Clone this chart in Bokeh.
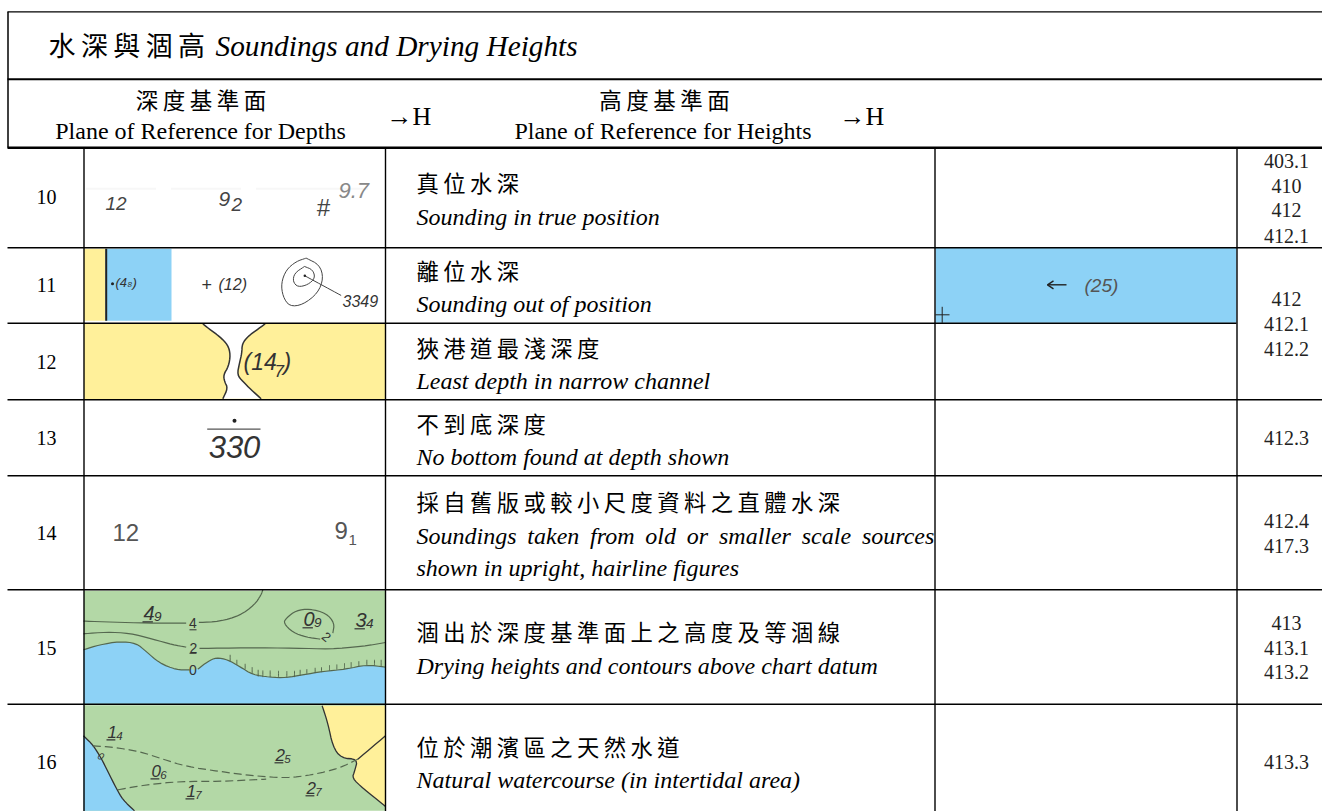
from bokeh.plotting import figure
from bokeh.models import Range1d
from bokeh.core.properties import value
from bokeh.embed import file_html
from bokeh.resources import INLINE

TS = "\u2009"
def sp(s):
    return TS.join(s)

title_cn = "水深與涸高"
title_en = "Soundings and Drying Heights"
hdr_cn = ["深度基準面", "高度基準面"]
hdr_en = ["Plane of Reference for Depths", "Plane of Reference for Heights"]
hdr_arrow = "→H"
row_numbers = ["10", "11", "12", "13", "14", "15", "16"]
row_cn = ["真位水深", "離位水深", "狹港道最淺深度", "不到底深度", "採自舊版或較小尺度資料之直體水深",
          "涸出於深度基準面上之高度及等涸線", "位於潮濱區之天然水道"]
row_en = [["Sounding in true position"], ["Sounding out of position"], ["Least depth in narrow channel"],
          ["No bottom found at depth shown"],
          ["Soundings\u2009 taken\u2009 from\u2009 old\u2009 or\u2009 smaller\u2009 scale\u2009 sources", "shown in upright, hairline figures"],
          ["Drying heights and contours above chart datum"], ["Natural watercourse (in intertidal area)"]]
refs = [["403.1", "410", "412", "412.1"], ["412", "412.1", "412.2"], ["412.3"], ["412.4", "417.3"],
        ["413", "413.1", "413.2"], ["413.3"]]
ref_ys = [[161, 186, 210, 236], [299, 324, 349], [438], [521, 546], [623, 648, 672], [762]]

row_y = [197, 285, 362, 438, 533, 648, 762]
cn_y = [182, 270, 347, 423, 501, 631, 746]
en_y = [[217], [304], [381], [457], [536, 568], [666], [780]]

YEL, BLU, GRN = "#fff09a", "#8dd2f6", "#b3d8a6"
INK = "#333333"
W, H = 1322, 811
p = figure(width=W, height=H, x_range=Range1d(1, W + 1), y_range=Range1d(H + 0.7, 0.7),
           output_backend="svg", toolbar_location=None, min_border=0)
p.axis.visible = False
p.grid.visible = False
p.outline_line_color = None
p.background_fill_color = "white"

SERIF, SANS, CJK = "Liberation Serif", "Liberation Sans", "Noto Sans CJK TC"

def T(x, y, s, size, font=SERIF, style="normal", color="black", align="left", base="middle", angle=0):
    if base == "alphabetic":
        y -= 0.36 * size
    p.text([x], [y], text=[s], text_font=value(font), text_font_size=f"{size}px", text_font_style=style,
           text_color=color, text_align=align, text_baseline="middle", angle=angle)

def soft(pts, n=2):
    # corner cutting so hand-traced outlines read as curves
    for _ in range(n):
        out = [pts[0]]
        for (a, b), (c, d) in zip(pts[:-1], pts[1:]):
            out.append((0.75 * a + 0.25 * c, 0.75 * b + 0.25 * d))
            out.append((0.25 * a + 0.75 * c, 0.25 * b + 0.75 * d))
        out.append(pts[-1])
        pts = out
    return pts

def Z(pts, ox, oy):
    return [a / 3 + ox for a, _ in pts], [b / 3 + oy for _, b in pts]

def L(pts, ox, oy, color="#444444", w=1.2, dash="solid"):
    xs, ys = Z(soft(pts), ox, oy)
    p.line(xs, ys, line_color=color, line_width=w, line_dash=dash, line_join="round")

def A(pts, ox, oy, color):
    xs, ys = Z(pts, ox, oy)
    p.patch(xs, ys, fill_color=color, line_color=None)

def R(x0, x1, y0, y1, color):
    p.quad(left=[x0], right=[x1], top=[y0], bottom=[y1], fill_color=color, line_color=None)

def depth(x, y, main, sub, size=20):
    T(x, y, main, size, SANS, "italic", INK, base="alphabetic")
    mw = size * 0.52
    T(x + mw, y + 2, sub, size * 0.68, SANS, "italic", INK, base="alphabetic")
    p.line([x - 1, x + mw - 1], [y + 2, y + 2], line_color=INK, line_width=1.2)

# ---------- fills ----------
R(84.5, 106, 249, 321, YEL); R(106, 172, 249, 321, BLU)
R(936, 1237, 248, 323, BLU)
R(84.5, 386, 324, 400, YEL)

# row 12 channel
left_ch = [(370, 12), (395, 32), (420, 50), (445, 75), (453, 105), (447, 140), (432, 165), (435, 185), (445, 205), (430, 237)]
right_ch = [(557, 12), (530, 32), (505, 50), (488, 72), (487, 100), (480, 130), (473, 165), (490, 185), (515, 210), (545, 237)]
A(soft(left_ch) + soft(right_ch)[::-1], 80, 320, "white")
L(left_ch, 80, 320, "#333333", 1.5)
L(right_ch, 80, 320, "#333333", 1.5)

# row 15
R(84.5, 386, 591, 704, GRN)
coast = [(12, 180), (60, 165), (120, 155), (170, 160), (200, 185), (240, 220), (290, 240), (330, 240)]
coast2 = [(355, 238), (385, 215), (410, 203), (445, 210), (480, 230), (520, 255), (570, 262), (620, 264), (670, 255),
          (730, 245), (800, 238), (860, 225), (918, 232)]
A(soft(coast) + soft(coast2) + [(918, 342), (12, 342)], 80, 590, BLU)
L(coast, 80, 590, "#55684f"); L(coast2, 80, 590, "#55684f")
coast_ticks = [(452, 215, 195), (472, 225, 210), (497, 238, 222), (518, 250, 232), (536, 260, 240), (550, 262, 242),
               (572, 262, 242), (597, 264, 243), (622, 264, 244), (645, 262, 243), (662, 258, 240), (682, 252, 238),
               (707, 250, 234), (726, 247, 232), (750, 243, 226), (772, 240, 224), (795, 237, 220), (815, 234, 217),
               (838, 230, 214), (862, 226, 210), (885, 228, 210), (905, 230, 210)]
for tx, ty0, ty1 in coast_ticks:
    L([(tx, ty0), (tx, ty1)], 80, 590, "#55684f", 1)
L([(12, 132), (80, 127), (150, 130), (220, 148), (280, 165), (320, 172)], 80, 590, "#55684f")
L([(360, 176), (500, 174), (650, 175), (750, 178), (850, 170), (918, 158)], 80, 590, "#55684f")
L([(12, 94), (100, 97), (200, 100), (320, 100)], 80, 590, "#55684f")
L([(358, 98), (420, 95), (480, 78), (525, 45), (545, 15), (550, 0)], 80, 590, "#55684f")
L([(760, 130), (765, 100), (740, 70), (690, 57), (650, 62), (620, 85), (612, 100), (640, 128), (680, 142), (722, 148)], 80, 590, "#55684f")
T(193.3, 623, "4", 14, SANS, "normal", INK, "center")
p.line([190, 197], [630, 630], line_color=INK, line_width=1)
T(193.8, 648, "2", 14, SANS, "normal", INK, "center")
p.line([190, 197], [653.5, 653.5], line_color=INK, line_width=1)
T(193.5, 670.5, "0", 14, SANS, "normal", INK, "center")
T(327, 637, "2", 13, SANS, "normal", INK, "center", angle=-0.7)
depth(144, 620, "4", "9")
depth(304, 626, "0", "9")
depth(356, 627, "3", "4")

# row 16
R(84.5, 386, 705.5, 811, GRN)
blue16 = [(12, 108), (40, 135), (65, 175), (85, 215), (110, 265), (130, 300), (165, 333)]
A(soft(blue16) + [(12, 333)], 80, 700, BLU)
L(blue16, 80, 700, "#333333", 1.3)
yel16 = [(728, 18), (745, 70), (760, 140), (785, 175), (835, 178), (825, 215), (818, 235), (850, 265), (918, 320)]
A(soft(yel16) + [(918, 18)], 80, 700, YEL)
L(yel16, 80, 700, "#333333", 1.3)
L([(835, 178), (918, 108)], 80, 700, "#333333", 1.3)
L([(40, 138), (100, 142), (180, 155), (250, 178), (320, 200), (420, 215), (520, 228), (620, 235), (700, 225), (780, 205), (835, 178)],
  80, 700, "#55684f", 1.2, "8 4")
L([(115, 270), (200, 255), (300, 245), (420, 245), (560, 238)], 80, 700, "#55684f", 1.2, "8 4")
T(101.5, 756, "0", 10, SANS, "italic", INK, "center", angle=-0.5)
depth(108, 738, "1", "4", 17)
depth(276, 761, "2", "5", 17)
depth(152, 777, "0", "6", 17)
depth(187, 797, "1", "7", 17)
depth(307, 794, "2", "7", 17)

# row 10 symbols
for a, b in [(87, 168), (172, 253), (257, 380)]:
    p.line([a, b - 12], [189, 189], line_color="#eeeeee", line_width=2, line_dash="1 1")
T(106, 204, "12", 19, SANS, "italic", "#444444")
T(219, 199, "9", 21, SANS, "italic", "#444444")
T(232, 205, "2", 19, SANS, "italic", "#444444")
T(317, 208, "#", 24, SANS, "italic", "#444444")
T(339, 191, "9.7", 22, SANS, "italic", "#888888")

# row 11 symbols
p.line([106.7, 106.7], [249, 321], line_color="#222222", line_width=2)
p.scatter([113], [284], size=3, fill_color="#222222", line_color=None)
T(116, 283, "(4", 13, SANS, "italic", INK)
T(128, 285, "8", 8, SANS, "italic", INK)
T(133, 283, ")", 13, SANS, "italic", INK)
T(202, 285, "+", 18, SANS, "normal", INK)
T(219, 285, "(12)", 16, SANS, "italic", INK)
ring = [(680, 325), (720, 345), (732, 385), (715, 430), (670, 465), (630, 470), (610, 440), (605, 400), (620, 360), (650, 335), (680, 325)]
inner = [(675, 350), (700, 360), (707, 385), (685, 405), (655, 412), (640, 395), (645, 370), (675, 350)]
L(ring, 80, 150, "#444444", 1)
L(inner, 80, 150, "#444444", 1)
L([(676, 378), (785, 437)], 80, 150, "#444444", 1)
p.scatter([305.3], [276], size=2.5, fill_color="#222222", line_color=None)
T(343, 301, "3349", 16, SANS, "italic", INK)

# row 11 right
p.line([1048, 1067], [285, 285], line_color="#222222", line_width=1.4)
p.line([1054, 1048, 1054], [281, 285, 289], line_color="#222222", line_width=1.4)
T(1085, 286, "(25)", 19, SANS, "italic", "#555555")
p.line([936, 950], [315, 315], line_color="#222222", line_width=1)
p.line([942.7, 942.7], [307, 323], line_color="#222222", line_width=1)

# row 12 text
T(244, 362, "(14", 23, SANS, "italic", INK)
T(275, 371, "7", 17, SANS, "italic", INK)
T(284, 362, ")", 23, SANS, "italic", INK)

# row 13 symbol
p.scatter([235], [421], size=4, fill_color="#222222", line_color=None)
p.line([207.7, 261], [429.3, 429.3], line_color="#555555", line_width=1.4)
T(235, 458, "330", 31, SANS, "italic", INK, "center", "alphabetic")

# row 14 symbol
T(113, 533, "12", 24, SANS, "normal", "#555555")
T(335, 531, "9", 24, SANS, "normal", "#555555")
T(349, 540, "1", 15, SANS, "normal", "#555555")

# ---------- rules ----------
def H_(y, x0, x1, w=1.5):
    p.line([x0, x1], [y, y], line_color="black", line_width=w)
def V_(x, y0, y1, w=1.5):
    p.line([x, x], [y0, y1], line_color="black", line_width=w)

H_(12, 8, 1323, 1.2)
H_(79.5, 8, 1323, 2)
H_(148, 8, 1323, 2.5)
V_(8.5, 12, 148, 1.5)
for x in (84.5, 386, 935.5, 1237.5):
    V_(x, 148, 812, 1.4)
H_(248, 8, 1323, 1.4)
H_(323.5, 8, 1237, 1.4)
H_(400, 8, 1323, 1.4)
H_(476, 8, 1323, 1.4)
H_(590, 8, 1323, 1.4)
H_(704.5, 8, 1323, 1.4)

# ---------- table text ----------
T(49, 45, sp(title_cn), 27, CJK)
T(216, 46, title_en, 29.3, SERIF, "italic")
T(201.5, 99, sp(hdr_cn[0]), 22.5, CJK, align="center")
T(201, 131, hdr_en[0], 24, SERIF, align="center")
T(387, 117, hdr_arrow, 26, SERIF)
T(665, 99, sp(hdr_cn[1]), 22.5, CJK, align="center")
T(663.5, 131, hdr_en[1], 24, SERIF, align="center")
T(840, 117, hdr_arrow, 26, SERIF)

for n, ny in zip(row_numbers, row_y):
    T(47, ny, n, 20, SERIF, align="center")
for s, cy in zip(row_cn, cn_y):
    T(417, cy, sp(s), 22.3, CJK)
for ss, ys in zip(row_en, en_y):
    for s, ey in zip(ss, ys):
        T(417, ey, s, 24, SERIF, "italic")
for ss, ys in zip(refs, ref_ys):
    for s, ry in zip(ss, ys):
        T(1287, ry, s, 20, SERIF, align="center", color="#222222")

open("out.html", "w").write(file_html(p, INLINE))
